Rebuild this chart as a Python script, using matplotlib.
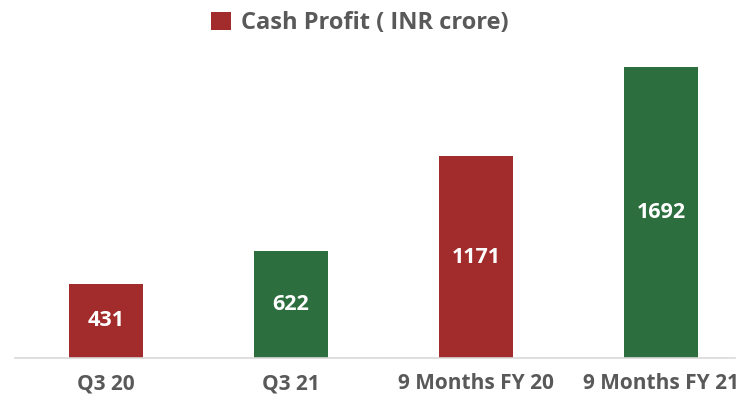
import matplotlib.pyplot as plt
from matplotlib.patches import Patch

categories = ["Q3 20", "Q3 21", "9 Months FY 20", "9 Months FY 21"]
cash_profit = [431, 622, 1171, 1692]
bar_colors = ["#A22B2B", "#2C6E3E", "#A22B2B", "#2C6E3E"]

plt.rcParams["font.family"] = ["Open Sans", "DejaVu Sans"]

fig = plt.figure(figsize=(7.4, 4.03), dpi=100)
ax = fig.add_axes([15 / 740, 1 - 358 / 403, 720 / 740, 310 / 403])

x = range(len(categories))
bars = ax.bar(x, cash_profit, width=0.395, color=bar_colors)
for bar, val in zip(bars, cash_profit):
    ax.text(bar.get_x() + bar.get_width() / 2, val / 2, str(val),
            ha="center", va="center", color="white", fontsize=15.5, fontweight="bold")

ax.set_xlim(-0.492, 3.4)
ax.set_ylim(0, 1800)
ax.set_xticks(list(x))
ax.set_xticklabels(categories, fontsize=15, fontweight="bold", color="#595959")
ax.tick_params(axis="x", length=0, pad=11)
ax.set_yticks([])
for side in ["top", "right", "left"]:
    ax.spines[side].set_visible(False)
ax.spines["bottom"].set_color("#D9D9D9")
ax.spines["bottom"].set_linewidth(1.2)

handle = Patch(facecolor="#A22B2B", label="Cash Profit ( INR crore)")
leg = fig.legend(handles=[handle], loc="upper center", bbox_to_anchor=(0.486, 1.025),
                 frameon=False, handlelength=0.85, handleheight=0.85, handletextpad=0.4,
                 prop={"size": 17, "weight": "bold"})
for t in leg.get_texts():
    t.set_color("#595959")

fig.savefig("out.png", dpi=100)
